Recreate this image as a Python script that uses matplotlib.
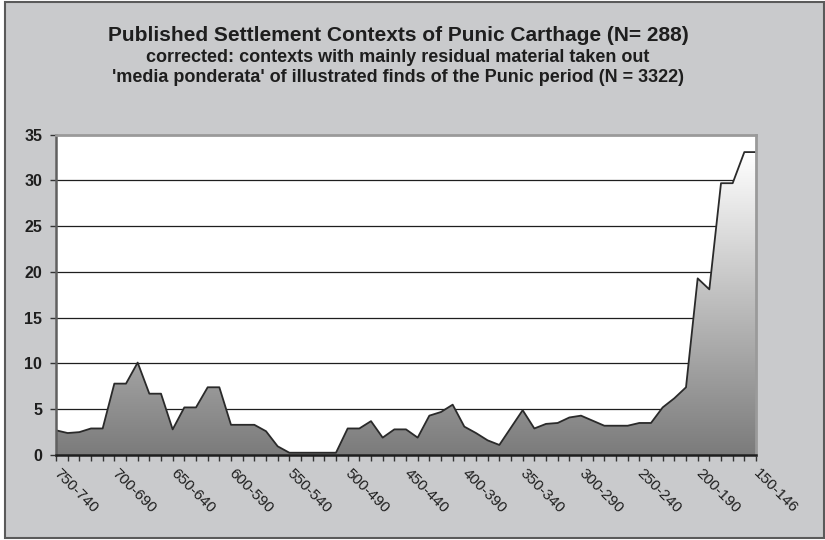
import numpy as np
import matplotlib
matplotlib.use("Agg")
import matplotlib.pyplot as plt
from matplotlib.patches import Polygon, Rectangle
from matplotlib.colors import LinearSegmentedColormap

# ---- data ----
periods = [
    "750-740", "740-730", "730-720", "720-710", "710-700",
    "700-690", "690-680", "680-670", "670-660", "660-650",
    "650-640", "640-630", "630-620", "620-610", "610-600",
    "600-590", "590-580", "580-570", "570-560", "560-550",
    "550-540", "540-530", "530-520", "520-510", "510-500",
    "500-490", "490-480", "480-470", "470-460", "460-450",
    "450-440", "440-430", "430-420", "420-410", "410-400",
    "400-390", "390-380", "380-370", "370-360", "360-350",
    "350-340", "340-330", "330-320", "320-310", "310-300",
    "300-290", "290-280", "280-270", "270-260", "260-250",
    "250-240", "240-230", "230-220", "220-210", "210-200",
    "200-190", "190-180", "180-170", "170-160", "160-150",
    "150-146",
]
media_ponderata = [
    2.7, 2.4, 2.5, 2.9, 2.9, 7.8, 7.8, 10.1, 6.7, 6.7,
    2.8, 5.2, 5.2, 7.4, 7.4, 3.3, 3.3, 3.3, 2.6, 0.95,
    0.25, 0.25, 0.25, 0.25, 0.25, 2.9, 2.9, 3.7, 1.9, 2.8,
    2.8, 1.9, 4.3, 4.7, 5.5, 3.1, 2.4, 1.6, 1.1, 3.0,
    4.9, 2.9, 3.4, 3.5, 4.1, 4.3, 3.75, 3.2, 3.2, 3.2,
    3.5, 3.5, 5.2, 6.2, 7.4, 19.3, 18.1, 29.7, 29.7, 33.1,
    33.1,
]
label_every = 5
y_ticks = [0, 5, 10, 15, 20, 25, 30, 35]

title_lines = [
    "Published Settlement Contexts of Punic Carthage (N= 288)",
    "corrected: contexts with mainly residual material taken out",
    "'media ponderata' of illustrated finds of the Punic period (N = 3322)",
]

plt.rcParams["font.family"] = ["Liberation Sans", "DejaVu Sans"]

bg = "#c9cacc"
fig = plt.figure(figsize=(8.25, 5.4), dpi=100, facecolor="white")

# chart frame (behind the axes)
frame = Rectangle((5 / 825, 2 / 540), 819 / 825, 536 / 540,
                  transform=fig.transFigure, facecolor=bg,
                  edgecolor="#5a5a5a", linewidth=1.5, zorder=-10)
fig.patches.append(frame)

ax = fig.add_axes([56 / 825, 1 - 455 / 540, 700 / 825, 320.3 / 540])
ax.set_zorder(1)
ax.set_facecolor("white")

x = np.arange(len(media_ponderata))
y = np.array(media_ponderata)

# gridlines behind the area
for t in y_ticks[1:-1]:
    ax.axhline(t, color="#1e1e1e", linewidth=0.9, zorder=1)

# gradient filled area
verts = np.vstack([[x[0], 0], np.column_stack([x, y]), [x[-1], 0]])
area = Polygon(verts, closed=True, facecolor="none", edgecolor="none")
ax.add_patch(area)
cmap = LinearSegmentedColormap.from_list("grey_grad", ["#7b7b7b", "#ffffff"])
grad = np.linspace(0, 1, 256).reshape(-1, 1)
im = ax.imshow(grad, extent=[x[0], x[-1], 0, max(media_ponderata)],
               origin="lower", cmap=cmap, aspect="auto", zorder=2)
im.set_clip_path(area)
ax.plot(x, y, color="#2a2a2a", linewidth=1.3, zorder=3)

ax.set_xlim(x[0], x[-1])
ax.set_ylim(0, 35)

# spines
for side in ["top", "right"]:
    ax.spines[side].set_color("#9a9a9a")
    ax.spines[side].set_linewidth(2.0)
ax.spines["left"].set_color("#606060")
ax.spines["left"].set_linewidth(1.8)
ax.spines["bottom"].set_color("#1e1e1e")
ax.spines["bottom"].set_linewidth(1.8)
for s in ax.spines.values():
    s.set_zorder(4)

ax.set_yticks(y_ticks)
ax.set_yticklabels([str(t) for t in y_ticks], fontsize=11.5,
                   fontweight="bold", color="#1e1e1e")
ax.tick_params(axis="y", length=4, width=1, color="#333333", pad=6)

ax.set_xticks(x)
ax.set_xticklabels([p if i % label_every == 0 else "" for i, p in enumerate(periods)],
                   fontsize=11, color="#1e1e1e")
ax.tick_params(axis="x", length=4, width=1, color="#333333", pad=8)
plt.setp(ax.get_xticklabels(), rotation=-45, ha="left", va="center",
         rotation_mode="anchor")

# titles
fig.text(0.4824, 1 - 35.5 / 540, title_lines[0], ha="center", va="center",
         fontsize=15, fontweight="bold", color="#1e1e1e")
fig.text(0.4824, 1 - 57 / 540, title_lines[1], ha="center", va="center",
         fontsize=13, fontweight="bold", color="#1e1e1e")
fig.text(0.4824, 1 - 77.5 / 540, title_lines[2], ha="center", va="center",
         fontsize=13, fontweight="bold", color="#1e1e1e")

fig.savefig("out.png", dpi=100, facecolor=fig.get_facecolor())
